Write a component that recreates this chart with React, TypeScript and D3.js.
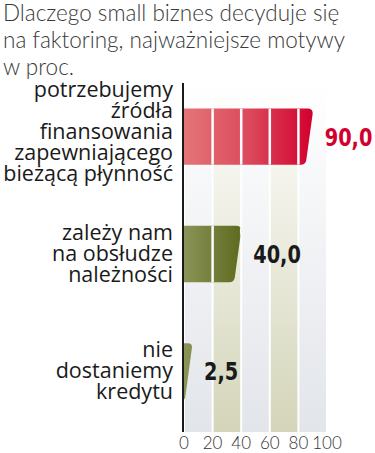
import React from "react";
import * as d3 from "d3";

const titleLines = ["Dlaczego small biznes decyduje się", "na faktoring, najważniejsze motywy", "w proc."];
const categories = ["a", "b", "c"];
const categoryLabels = [
  ["potrzebujemy", "źródła", "finansowania", "zapewniającego", "bieżącą płynność"],
  ["zależy nam", "na obsłudze", "należności"],
  ["nie", "dostaniemy", "kredytu"],
];
const values = [90.0, 40.0, 2.5];
const valueLabels = ["90,0", "40,0", "2,5"];
const ticks = [0, 20, 40, 60, 80, 100];

const W = 375;
const H = 453;

export default function App() {
  const x = d3.scaleLinear().domain([0, 100]).range([184, 327]);
  const y = d3.scaleBand<string>().domain(categories).range([78, 430]).paddingInner(0.52).paddingOuter(0.26);
  const bw = y.bandwidth();
  const axisTop = 83;
  const axisBottom = 432;

  const bands = d3.range(ticks.length - 1).map((i) => ({
    x0: x(ticks[i]) + 1,
    x1: x(ticks[i + 1]) - 1,
    beige: i % 2 === 1,
  }));

  const barEnd = (v: number) => Math.max(x(v), x(0) + 8);

  const barPath = (v: number, y0: number) => {
    const x0 = x(0);
    const x1 = barEnd(v);
    const y1 = y0 + bw;
    const slant = Math.min(7, x1 - x0);
    const xb = x1 - slant;
    const r = Math.min(5, (x1 - x0) / 2);
    const p = d3.path();
    p.moveTo(x0, y0);
    p.lineTo(x1 - r, y0);
    p.quadraticCurveTo(x1, y0, x1, y0 + r);
    p.lineTo(xb + (r * slant) / bw, y1 - r);
    p.quadraticCurveTo(xb, y1, Math.max(x0, xb - r), y1);
    p.lineTo(x0, y1);
    p.closePath();
    return p.toString();
  };

  const lineH = 21;

  return (
    <svg
      width={W}
      height={H}
      style={{ position: "absolute", left: 0, top: 0, background: "#fff" }}
    >
      <defs>
        <linearGradient id="fadeV" x1="0" y1={axisTop} x2="0" y2={axisBottom} gradientUnits="userSpaceOnUse">
          <stop offset="0" stopColor="#fff" stopOpacity="1" />
          <stop offset="0.25" stopColor="#fff" stopOpacity="0.75" />
          <stop offset="1" stopColor="#fff" stopOpacity="0" />
        </linearGradient>
        <linearGradient id="redG" x1={x(0)} y1="0" x2={x(90)} y2="0" gradientUnits="userSpaceOnUse">
          <stop offset="0" stopColor="#e37578" />
          <stop offset="0.5" stopColor="#dc4a5c" />
          <stop offset="1" stopColor="#d2002e" />
        </linearGradient>
        <linearGradient id="greenG" x1={x(0)} y1="0" x2={x(40)} y2="0" gradientUnits="userSpaceOnUse">
          <stop offset="0" stopColor="#8a9458" />
          <stop offset="1" stopColor="#5d6a1e" />
        </linearGradient>
      </defs>

      {/* title */}
      <text fontFamily="Lato, 'Noto Sans', sans-serif" fontWeight={300} fontSize={22.5} fill="#3a3a3a">
        {titleLines.map((t, i) => (
          <tspan key={i} x={3} y={20.5 + i * 27}>
            {t}
          </tspan>
        ))}
      </text>

      {/* background bands */}
      {bands.map((b, i) => (
        <rect key={i} x={b.x0} y={axisTop} width={b.x1 - b.x0} height={axisBottom - axisTop} fill={b.beige ? "#d4d5b9" : "#e2e5ea"} />
      ))}
      <rect x={x(0)} y={axisTop} width={x(100) - x(0)} height={axisBottom - axisTop} fill="url(#fadeV)" />

      {/* bars */}
      {values.map((v, i) => {
        const y0 = y(categories[i])!;
        const clipId = `clip${i}`;
        const lx = barEnd(v) + 12;
        const ly = y0 + bw / 2 + 9;
        return (
          <g key={i}>
            <clipPath id={clipId}>
              <path d={barPath(v, y0)} />
            </clipPath>
            <path d={barPath(v, y0)} fill={i === 0 ? "url(#redG)" : "url(#greenG)"} />
            <g clipPath={`url(#${clipId})`}>
              {ticks.slice(1, -1).map((t) => (
                <line key={t} x1={x(t)} x2={x(t)} y1={y0} y2={y0 + bw} stroke="#fff" strokeWidth={2.5} />
              ))}
            </g>
            <text
              transform={`translate(${lx},${ly}) scale(0.86,1)`}
              fontFamily="'DejaVu Sans Condensed', 'DejaVu Sans', sans-serif"
              fontWeight={700}
              fontSize={25}
              fill={i === 0 ? "#d2002e" : "#1a1a1a"}
            >
              {valueLabels[i]}
            </text>
          </g>
        );
      })}

      {/* category labels */}
      {categoryLabels.map((lines, i) => {
        const cy = y(categories[i])! + bw / 2;
        const offset = 7 - (lines.length - 3) * 2.5;
        const first = cy - ((lines.length - 1) * lineH) / 2 + offset;
        return (
          <text
            key={i}
            fontFamily="'Open Sans', 'Noto Sans', sans-serif"
            fontSize={21.5}
            fill="#1a1a1a"
            textAnchor="end"
          >
            {lines.map((l, j) => (
              <tspan key={j} x={173} y={first + j * lineH}>
                {l}
              </tspan>
            ))}
          </text>
        );
      })}

      {/* axis */}
      <line x1={183} x2={183} y1={axisTop} y2={axisBottom} stroke="#1a1a1a" strokeWidth={2} />
      <g fontFamily="Lato, 'Noto Sans', sans-serif" fontWeight={300} fontSize={17} fill="#333" textAnchor="middle">
        {ticks.map((t) => (
          <text key={t} x={x(t)} y={449}>
            {t}
          </text>
        ))}
      </g>
    </svg>
  );
}
